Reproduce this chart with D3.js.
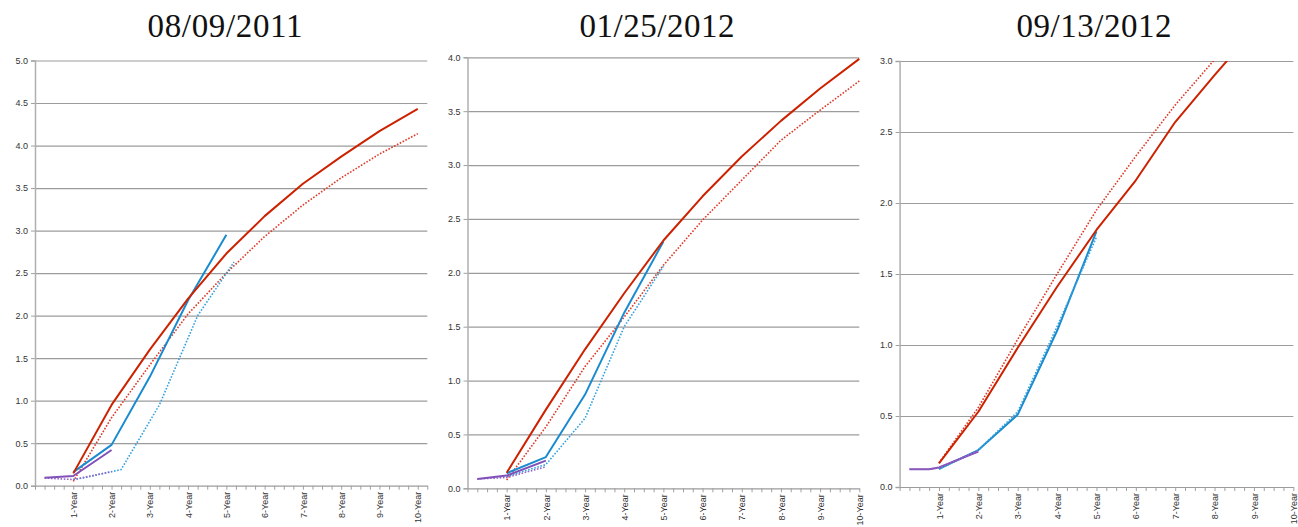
<!DOCTYPE html>
<html><head><meta charset="utf-8">
<script src="https://cdn.jsdelivr.net/npm/d3@7"></script>
<style>body{margin:0;background:#fff} svg{display:block}</style>
</head><body>
<svg id="c" width="1298" height="527"></svg>
<script>
// ---------- data ----------
const titles = ["08/09/2011", "01/25/2012", "09/13/2012"];
const yMaxes = [5, 4, 3];
const xMaxYears = [10.25, 10, 10];
const xTickLabels = ["1-Year","2-Year","3-Year","4-Year","5-Year","6-Year","7-Year","8-Year","9-Year","10-Year"];
const xLabelYears = [1,2,3,4,5,6,7,8,9,10];

const tenorShort = [0.25, 1, 2];
const tenorShort3 = [0.25, 0.75, 1, 2];
const tenorMid = [1, 2, 3, 4, 5];
const tenorLong = [1, 2, 3, 4, 5, 6, 7, 8, 9, 10];
const p1BlueDotTenor = [1, 1.25, 2.25, 3.25, 4.25, 5.2];

// panel 1 — 08/09/2011
const p1RedSolid   = [0.145, 0.95, 1.6, 2.2, 2.73, 3.17, 3.55, 3.87, 4.17, 4.43];
const p1RedDot     = [0.05, 0.8, 1.42, 2.02, 2.5, 2.93, 3.3, 3.62, 3.9, 4.14];
const p1BlueSolid  = [0.16, 0.48, 1.28, 2.18, 2.95];
const p1BlueDot    = [0.075, 0.09, 0.19, 0.95, 2.0, 2.63];
const p1PurpleSolid= [0.094, 0.114, 0.42];
const p1PurpleDot  = [0.09, 0.072, 0.165];

// panel 2 — 01/25/2012
const p2RedSolid   = [0.145, 0.73, 1.29, 1.81, 2.3, 2.71, 3.08, 3.41, 3.71, 3.985];
const p2RedDot     = [0.077, 0.57, 1.13, 1.59, 2.07, 2.49, 2.86, 3.23, 3.51, 3.78];
const p2BlueSolid  = [0.14, 0.29, 0.87, 1.63, 2.29];
const p2BlueDot    = [0.11, 0.22, 0.65, 1.5, 2.06];
const p2PurpleSolid= [0.087, 0.118, 0.257];
const p2PurpleDot  = [0.087, 0.1, 0.2];

// panel 3 — 09/13/2012
const p3RedSolid   = [0.167, 0.53, 0.98, 1.41, 1.81, 2.16, 2.57, 2.9, 3.22, 3.5];
const p3RedDot     = [0.17, 0.56, 1.04, 1.5, 1.95, 2.33, 2.69, 3.01, 3.35, 3.65];
const p3BlueSolid  = [0.128, 0.26, 0.51, 1.1, 1.8];
const p3BlueDot    = [0.125, 0.26, 0.53, 1.13, 1.76];
const p3PurpleSolid= [0.125, 0.125, 0.138, 0.25];
const p3PurpleDot  = [0.125, 0.125, 0.135, 0.255];

const panelSeries = [
  [[tenorLong, p1RedDot, "redDot"], [tenorMid, p1BlueSolid, "blue"], [p1BlueDotTenor, p1BlueDot, "blueDot"],
   [tenorShort, p1PurpleDot, "purpleDot"], [tenorShort, p1PurpleSolid, "purple"], [tenorLong, p1RedSolid, "red"]],
  [[tenorLong, p2RedDot, "redDot"], [tenorMid, p2BlueDot, "blueDot"], [tenorMid, p2BlueSolid, "blue"],
   [tenorShort, p2PurpleDot, "purpleDot"], [tenorShort, p2PurpleSolid, "purple"], [tenorLong, p2RedSolid, "red"]],
  [[tenorLong, p3RedDot, "redDot"], [tenorMid, p3BlueSolid, "blue"], [tenorMid, p3BlueDot, "blueDot"],
   [tenorShort3, p3PurpleSolid, "purple"], [tenorShort3, p3PurpleDot, "purpleDot"], [tenorLong, p3RedSolid, "red"]]
];

// ---------- layout & styles ----------
const layout = [
  {x0: 35,    x1: 427.3,  y0: 485.7, y1: 60.5, tx: 225},
  {x0: 467.5, x1: 859.3,  y0: 488.3, y1: 57.3, tx: 657},
  {x0: 899.6, x1: 1293.3, y0: 487,   y1: 61,   tx: 1094}
];
const styles = {
  red:       {stroke: "#cc2200", width: 2,   dash: null},
  redDot:    {stroke: "#dd3a28", width: 1.6, dash: "1.6,1.6"},
  blue:      {stroke: "#1a8bcf", width: 2,   dash: null},
  blueDot:   {stroke: "#35a2e0", width: 1.6, dash: "1.6,1.6"},
  purple:    {stroke: "#8150b8", width: 2,   dash: null},
  purpleDot: {stroke: "#9466c8", width: 1.6, dash: "1.6,1.6"}
};

const svg = d3.select("#c");

layout.forEach((L, i) => {
  const g = svg.append("g");
  const x = d3.scaleLinear().domain([0, xMaxYears[i]]).range([L.x0, L.x1]);
  const y = d3.scaleLinear().domain([0, yMaxes[i]]).range([L.y0, L.y1]);
  const yTicks = d3.range(0, yMaxes[i] + 0.001, 0.5);

  // title
  g.append("text")
    .attr("x", L.tx).attr("y", 37)
    .attr("text-anchor", "middle")
    .attr("font-family", "'Liberation Serif', 'DejaVu Serif', serif")
    .attr("font-size", 33)
    .attr("textLength", 155).attr("lengthAdjust", "spacing")
    .attr("fill", "#111")
    .text(titles[i]);

  // gridlines
  const grid = g.append("g").attr("transform", `translate(${L.x0},0)`)
    .call(d3.axisLeft(y).tickValues(yTicks.filter(v => v > 0)).tickSize(-(L.x1 - L.x0)).tickFormat(""));
  grid.select(".domain").remove();
  grid.selectAll(".tick line").attr("stroke", "#9c9c9c").attr("stroke-width", 1.2);

  // y axis
  const ya = g.append("g").attr("transform", `translate(${L.x0},0)`)
    .call(d3.axisLeft(y).tickValues(yTicks).tickSize(4).tickPadding(3).tickFormat(d3.format(".1f")));
  ya.select(".domain").attr("stroke", "#b0b0b0").attr("stroke-width", 1.5);
  ya.selectAll(".tick line").attr("stroke", "#a0a0a0");
  ya.selectAll(".tick text").attr("font-family", "'Liberation Sans', Arial, sans-serif")
    .attr("font-size", 9).attr("fill", "#333");

  // x axis
  const quarters = d3.range(0, xMaxYears[i] + 0.001, 0.25);
  const xa = g.append("g").attr("transform", `translate(0,${L.y0})`)
    .call(d3.axisBottom(x).tickValues(quarters).tickSize(4).tickSizeOuter(0)
      .tickFormat(d => { const k = xLabelYears.indexOf(d); return k >= 0 ? xTickLabels[k] : ""; }));
  xa.select(".domain").attr("stroke", "#9c9c9c").attr("stroke-width", 1.2);
  xa.selectAll(".tick line").attr("stroke", "#a0a0a0");
  xa.selectAll(".tick text")
    .attr("font-family", "'Liberation Sans', Arial, sans-serif")
    .attr("font-size", 9).attr("fill", "#333")
    .attr("text-anchor", "end")
    .attr("transform", "rotate(-90)")
    .attr("x", -6).attr("y", 0).attr("dy", "0.35em");

  // clip
  const cid = "clip" + i;
  svg.append("clipPath").attr("id", cid).append("rect")
    .attr("x", L.x0).attr("y", L.y1).attr("width", L.x1 - L.x0 + 2).attr("height", L.y0 - L.y1 + 2);

  const line = d3.line().x(d => x(d[0])).y(d => y(d[1]));
  const lg = g.append("g").attr("clip-path", `url(#${cid})`);
  panelSeries[i].forEach(([t, v, s]) => {
    const st = styles[s];
    lg.append("path")
      .datum(d3.zip(t, v))
      .attr("d", line)
      .attr("fill", "none")
      .attr("stroke", st.stroke)
      .attr("stroke-width", st.width)
      .attr("stroke-dasharray", st.dash)
      .attr("stroke-linejoin", "round");
  });
});
</script>
</body></html>
